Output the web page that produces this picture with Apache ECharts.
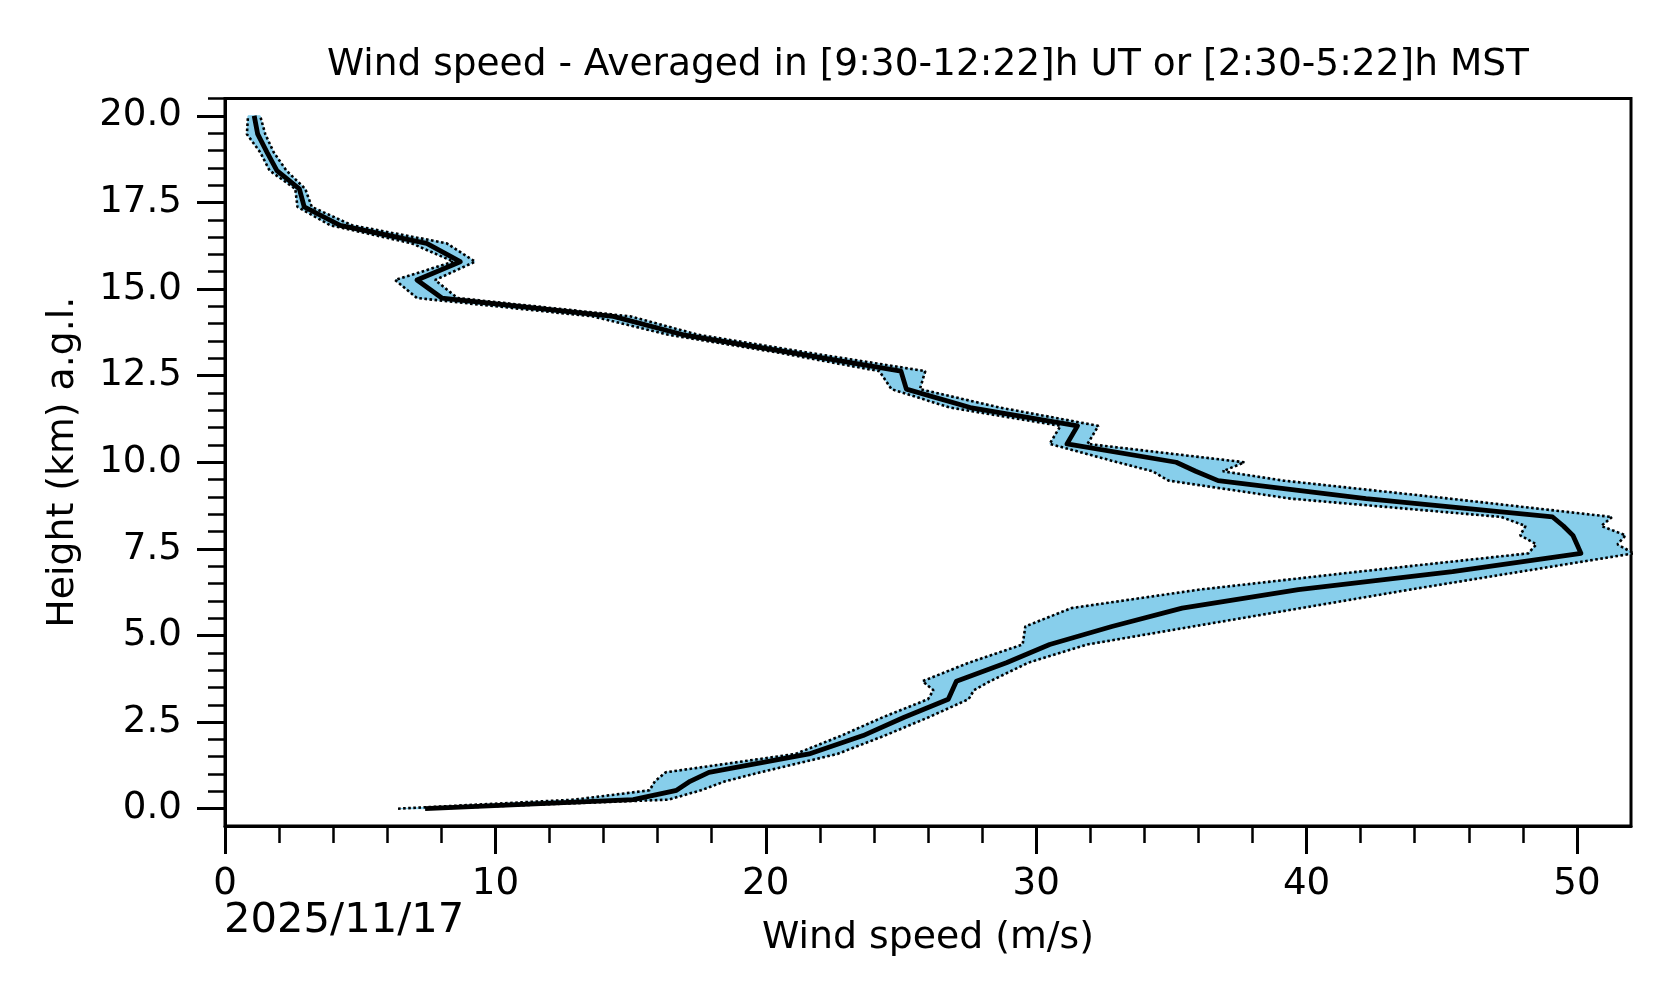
<!DOCTYPE html>
<html>
<head>
<meta charset="utf-8">
<script src="https://cdn.jsdelivr.net/npm/echarts@6/dist/echarts.min.js"></script>
<style>
html,body{margin:0;padding:0;background:#ffffff;}
#chart{width:1676px;height:1003px;}
</style>
</head>
<body>
<div id="chart"></div>
<script>
// ---- data ----
const heights = [0.00, 0.26, 0.53, 0.79, 1.05, 1.58, 2.11, 2.63, 3.16, 3.42, 3.68, 4.21, 4.74, 5.26, 5.79, 6.32, 6.84, 7.37, 7.63, 7.89, 8.16, 8.42, 8.95, 9.47, 9.74, 10.00, 10.53, 11.05, 11.58, 12.11, 12.63, 13.16, 13.68, 14.21, 14.74, 15.26, 15.79, 16.32, 16.84, 17.37, 17.89, 18.42, 18.95, 19.47, 20.00];
const meanSpeed = [7.4, 15.1, 16.7, 17.2, 17.9, 21.6, 23.6, 25.1, 26.75, 26.9, 27.05, 28.9, 30.5, 32.8, 35.4, 39.7, 45.4, 50.15, 50.0, 49.85, 49.5, 49.1, 42.2, 36.73, 35.9, 35.18, 31.14, 31.53, 27.56, 25.2, 25.0, 21.0, 16.95, 14.36, 8.02, 7.1, 8.7, 7.46, 4.26, 2.93, 2.75, 1.92, 1.55, 1.21, 1.08];
const lowerSpeed = [6.4, 12.9, 15.7, 15.9, 16.3, 21.1, 22.8, 24.3, 26.0, 26.2, 25.8, 27.5, 29.5, 29.6, 31.3, 36.0, 41.9, 48.2, 48.5, 47.9, 48.1, 47.2, 39.4, 34.9, 34.3, 33.0, 30.5, 30.9, 26.8, 24.65, 24.2, 20.5, 16.4, 13.6, 7.1, 6.29, 8.45, 6.9, 3.9, 2.68, 2.6, 1.65, 1.3, 0.81, 0.85];
const upperSpeed = [7.6, 16.4, 17.6, 18.5, 19.8, 22.65, 24.4, 26.0, 27.5, 27.7, 28.3, 29.7, 31.9, 35.8, 39.8, 43.8, 47.9, 52.1, 51.5, 51.8, 50.9, 51.3, 45.3, 39.15, 36.9, 37.7, 31.9, 32.3, 28.65, 25.7, 25.9, 21.6, 17.5, 15.0, 8.6, 7.77, 9.25, 8.2, 4.7, 3.21, 2.97, 2.27, 1.8, 1.49, 1.3];

const xMajorTicks = [0, 10, 20, 30, 40, 50];
const xMinorTicks = [2, 4, 6, 8, 12, 14, 16, 18, 22, 24, 26, 28, 32, 34, 36, 38, 42, 44, 46, 48];
const yMajorTicks = [0, 2.5, 5, 7.5, 10, 12.5, 15, 17.5, 20];
const yMinorTicks = [0.5, 1, 1.5, 2, 3, 3.5, 4, 4.5, 5.5, 6, 6.5, 7, 8, 8.5, 9, 9.5, 10.5, 11, 11.5, 12, 13, 13.5, 14, 14.5, 15.5, 16, 16.5, 17, 18, 18.5, 19, 19.5, 20.5];

const titleText = 'Wind speed - Averaged in [9:30-12:22]h UT or [2:30-5:22]h MST';
const xName = 'Wind speed (m/s)';
const yName = 'Height (km) a.g.l.';
const dateText = '2025/11/17';

// ---- chart ----
const F = 'DejaVu Sans';
const FS_TICK = 37.2;
const FS_LABEL = 37.8;
const FS_TITLE = 37.5;
const chart = echarts.init(document.getElementById('chart'), null, {renderer: 'canvas'});

const dotted = {color: '#000', width: 2.6, type: [2.6, 2.5]};

const option = {
  animation: false,
  backgroundColor: '#ffffff',
  title: {
    text: titleText,
    left: 928,
    top: 46,
    textAlign: 'center',
    padding: 0,
    textStyle: {fontFamily: F, fontSize: FS_TITLE, fontWeight: 'normal', color: '#000'}
  },
  grid: {
    left: 225, right: 45, top: 98.5, bottom: 177,
    show: true, borderColor: '#000', borderWidth: 3, backgroundColor: 'transparent'
  },
  xAxis: [
    {
      type: 'value', min: 0, max: 52, position: 'bottom',
      name: xName, nameLocation: 'middle', nameGap: 93,
      nameTextStyle: {fontFamily: F, fontSize: FS_LABEL, color: '#000'},
      axisLine: {show: true, onZero: false, lineStyle: {color: '#000', width: 3}},
      axisTick: {show: true, length: 28, lineStyle: {color: '#000', width: 3}, customValues: xMajorTicks},
      axisLabel: {show: true, customValues: xMajorTicks, margin: 40, fontFamily: F, fontSize: FS_TICK, color: '#000'},
      splitLine: {show: false}
    },
    {
      type: 'value', min: 0, max: 52, position: 'bottom',
      axisLine: {show: false, onZero: false},
      axisTick: {show: true, length: 17, lineStyle: {color: '#000', width: 2.5}, customValues: xMinorTicks},
      axisLabel: {show: false, customValues: xMinorTicks},
      splitLine: {show: false}
    }
  ],
  yAxis: [
    {
      type: 'value', min: -0.5, max: 20.5, position: 'left',
      name: yName, nameLocation: 'middle', nameGap: 142.5, nameRotate: 90,
      nameTextStyle: {fontFamily: F, fontSize: FS_LABEL, color: '#000'},
      axisLine: {show: true, onZero: false, lineStyle: {color: '#000', width: 3}},
      axisTick: {show: true, length: 28, lineStyle: {color: '#000', width: 3}, customValues: yMajorTicks},
      axisLabel: {show: true, customValues: yMajorTicks, margin: 43, fontFamily: F, fontSize: FS_TICK, color: '#000',
        formatter: function (v) { return Number(v).toFixed(1); }},
      splitLine: {show: false}
    },
    {
      type: 'value', min: -0.5, max: 20.5, position: 'left',
      axisLine: {show: false, onZero: false},
      axisTick: {show: true, length: 17, lineStyle: {color: '#000', width: 2.5}, customValues: yMinorTicks},
      axisLabel: {show: false, customValues: yMinorTicks},
      splitLine: {show: false}
    }
  ],
  graphic: [
    {
      type: 'text', left: 224, top: 900, silent: true,
      style: {text: dateText, fontFamily: F, fontSize: 41.7, fill: '#000'}
    }
  ],
  series: [
    {
      type: 'custom', name: 'band', xAxisIndex: 0, yAxisIndex: 0, clip: true, z: 1, silent: true,
      data: [[0, 0]],
      renderItem: function (params, api) {
        const pts = [];
        for (let i = 0; i < heights.length; i++) pts.push(api.coord([lowerSpeed[i], heights[i]]));
        for (let i = heights.length - 1; i >= 0; i--) pts.push(api.coord([upperSpeed[i], heights[i]]));
        return {type: 'polygon', shape: {points: pts}, style: {fill: '#87CEEB', stroke: '#87CEEB', lineWidth: 1}};
      }
    },
    {
      type: 'line', name: 'lower', xAxisIndex: 0, yAxisIndex: 0, z: 2, silent: true,
      data: heights.map((h, i) => [lowerSpeed[i], h]),
      symbol: 'none', showSymbol: false,
      lineStyle: dotted
    },
    {
      type: 'line', name: 'upper', xAxisIndex: 0, yAxisIndex: 0, z: 2, silent: true,
      data: heights.map((h, i) => [upperSpeed[i], h]),
      symbol: 'none', showSymbol: false,
      lineStyle: dotted
    },
    {
      type: 'line', name: 'mean', xAxisIndex: 0, yAxisIndex: 0, z: 3, silent: true,
      data: heights.map((h, i) => [meanSpeed[i], h]),
      symbol: 'none', showSymbol: false,
      lineStyle: {color: '#000', width: 4.8, join: 'round'}
    }
  ]
};
chart.setOption(option);
</script>
</body>
</html>
